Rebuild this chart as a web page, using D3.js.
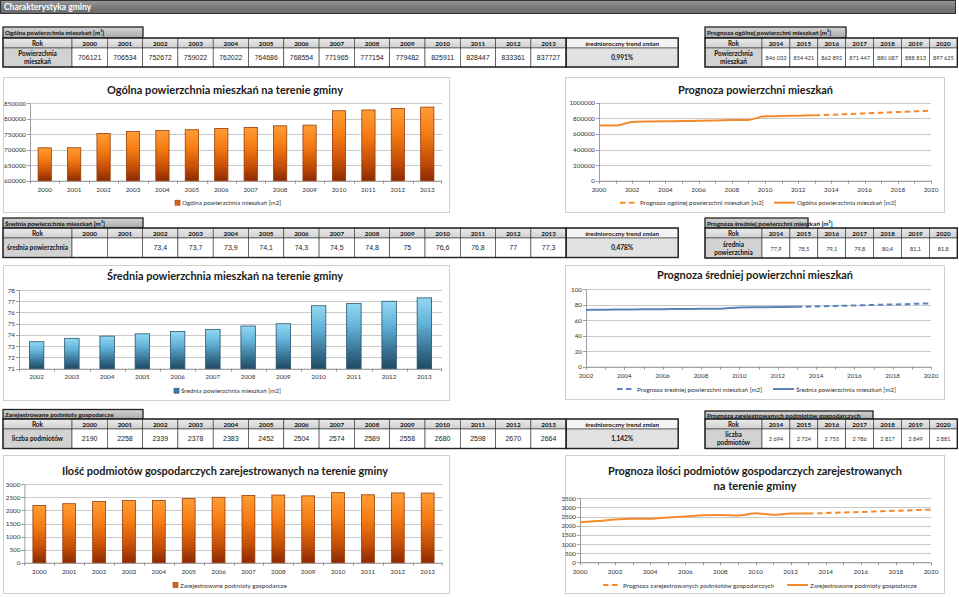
<!DOCTYPE html>
<html><head><meta charset="utf-8">
<script src="https://cdn.jsdelivr.net/npm/d3@7"></script>
<style>body{margin:0;background:#fff}svg{display:block}</style>
</head><body><svg id="c" width="959" height="597"></svg>
<script>
// ---------- DATA ----------
const years = [2000,2001,2002,2003,2004,2005,2006,2007,2008,2009,2010,2011,2012,2013];
const forecastYears = [2014,2015,2016,2017,2018,2019,2020];
const areaValues = [706121,706534,752672,759022,762022,764686,768554,771965,777154,779482,825911,828447,833361,837727];
const areaForecast = [846033,854421,862892,871447,880087,888813,897625];
const avgYears = [2002,2003,2004,2005,2006,2007,2008,2009,2010,2011,2012,2013];
const avgValues = [73.4,73.7,73.9,74.1,74.3,74.5,74.8,75,76.6,76.8,77,77.3];
const avgForecast = [77.9,78.5,79.1,79.8,80.4,81.1,81.8];
const firmValues = [2190,2258,2339,2378,2383,2452,2504,2574,2589,2558,2680,2598,2670,2664];
const firmForecast = [2694,2724,2755,2786,2817,2849,2881];
const trendArea = "0,991%", trendAvg = "0,478%", trendFirm = "1,142%";
const areaTicks = [600000,650000,700000,750000,800000,850000];
const avgTicks = [71,72,73,74,75,76,77,78];
const firmTicks = [0,500,1000,1500,2000,2500,3000];
const areaLineTicks = [0,200000,400000,600000,800000,1000000];
const avgLineTicks = [0,20,40,60,80,100];
const firmLineTicks = [0,500,1000,1500,2000,2500,3000,3500];

const svg = d3.select("#c");
const CAL = "Lato, 'Open Sans', sans-serif";
const ARIAL = "'Liberation Sans', Arial, sans-serif";

// ---------- DEFS ----------
const defs = svg.append("defs");
function grad(id, stops, horiz){
  const g = defs.append("linearGradient").attr("id",id).attr("x1",0).attr("y1",0)
    .attr("x2",horiz?1:0).attr("y2",horiz?0:1);
  stops.forEach(s=>g.append("stop").attr("offset",s[0]).attr("stop-color",s[1]));
}
grad("orangeGrad",[[0,"#ff9d35"],[0.35,"#f67d14"],[0.75,"#c24c06"],[1,"#8a2a02"]]);
grad("blueGrad",[[0,"#93d8f4"],[0.35,"#63b4d9"],[0.75,"#356f90"],[1,"#214a62"]]);
grad("headBar",[[0,"#9a9a9a"],[0.5,"#7a7a7a"],[1,"#6a6a6a"]]);
grad("tabGrad",[[0,"#d6d6d6"],[1,"#a9a9a9"]]);
grad("rowGrad",[[0,"#ececec"],[1,"#cfcfcf"]]);

// ---------- HEADER ----------
svg.append("rect").attr("x",0.5).attr("y",0.5).attr("width",955).attr("height",13)
  .attr("fill","url(#headBar)").attr("stroke","#333").attr("stroke-width",1);
svg.append("text").attr("x",4).attr("y",10).attr("font-family",CAL).attr("font-weight","bold")
  .attr("font-size",8.5).attr("fill","#fff").text("Charakterystyka gminy");

// ---------- TABLES ----------
function drawTable(o){
  const g = svg.append("g");
  const n = o.cols.length;
  const yH = o.y, yV = o.y + o.headerH;
  g.append("rect").attr("x",o.x).attr("y",o.y-o.titleH).attr("width",o.titleW).attr("height",o.titleH)
    .attr("fill","url(#tabGrad)").attr("stroke","#222").attr("stroke-width",1.3);
  g.append("text").attr("x",o.x+2).attr("y",o.y-o.titleH/2).attr("dominant-baseline","central")
    .attr("font-family",CAL).attr("font-weight","bold").attr("font-size",6.3).attr("fill","#111").text(o.title);
  g.append("rect").attr("x",o.x).attr("y",yH).attr("width",o.labelW).attr("height",o.headerH)
    .attr("fill","url(#rowGrad)").attr("stroke","#333").attr("stroke-width",0.6);
  g.append("text").attr("x",o.x+o.labelW/2).attr("y",yH+o.headerH/2).attr("dominant-baseline","central")
    .attr("text-anchor","middle").attr("font-family",CAL).attr("font-weight","bold").attr("font-size",6.5).attr("fill","#111").text("Rok");
  g.append("rect").attr("x",o.x).attr("y",yV).attr("width",o.labelW).attr("height",o.rowH)
    .attr("fill","#d2d2d2").attr("stroke","#333").attr("stroke-width",0.6);
  const lt = g.append("text").attr("text-anchor","middle").attr("font-family",CAL).attr("font-weight","bold")
    .attr("font-size",6.5).attr("fill","#111");
  const ll = o.labelLines;
  ll.forEach((s,i)=>{
    lt.append("tspan").attr("x",o.x+o.labelW/2)
      .attr("y",yV+o.rowH/2 + (i-(ll.length-1)/2)*8).attr("dominant-baseline","central").text(s);
  });
  o.cols.forEach((c,i)=>{
    const cx = o.x + o.labelW + i*o.colW;
    g.append("rect").attr("x",cx).attr("y",yH).attr("width",o.colW).attr("height",o.headerH)
      .attr("fill","url(#rowGrad)").attr("stroke","#333").attr("stroke-width",0.6);
    g.append("text").attr("x",cx+o.colW/2).attr("y",yH+o.headerH/2).attr("dominant-baseline","central")
      .attr("text-anchor","middle").attr("font-family",CAL).attr("font-weight","bold").attr("font-size",6.3).attr("fill","#111").text(c);
    g.append("rect").attr("x",cx).attr("y",yV).attr("width",o.colW).attr("height",o.rowH)
      .attr("fill","#fff").attr("stroke","#333").attr("stroke-width",0.6);
    g.append("text").attr("x",cx+o.colW/2).attr("y",yV+o.rowH/2).attr("dominant-baseline","central")
      .attr("text-anchor","middle").attr("font-family",o.valFont).attr("font-size",o.valSize).attr("fill",o.valColor||"#222").text(o.vals[i]);
  });
  const tableW = o.labelW + n*o.colW;
  g.append("rect").attr("x",o.x).attr("y",yH).attr("width",tableW).attr("height",o.headerH+o.rowH)
    .attr("fill","none").attr("stroke","#222").attr("stroke-width",1.4);
  if(o.trend){
    const tx = o.x + tableW;
    g.append("rect").attr("x",tx).attr("y",yH).attr("width",o.trendW).attr("height",o.headerH)
      .attr("fill","#f4f4f4").attr("stroke","#333").attr("stroke-width",0.6);
    g.append("text").attr("x",tx+o.trendW/2).attr("y",yH+o.headerH/2).attr("dominant-baseline","central")
      .attr("text-anchor","middle").attr("font-family",CAL).attr("font-weight","bold").attr("font-size",6.3).attr("fill","#111").text("średnioroczny trend zmian");
    g.append("rect").attr("x",tx).attr("y",yV).attr("width",o.trendW).attr("height",o.rowH)
      .attr("fill","#e2e2e2").attr("stroke","#333").attr("stroke-width",0.6);
    g.append("text").attr("x",tx+o.trendW/2).attr("y",yV+o.rowH/2).attr("dominant-baseline","central")
      .attr("text-anchor","middle").attr("font-family",CAL).attr("font-weight","bold").attr("font-size",6.5).attr("fill","#111").text(o.trend);
    g.append("rect").attr("x",tx).attr("y",yH).attr("width",o.trendW).attr("height",o.headerH+o.rowH)
      .attr("fill","none").attr("stroke","#222").attr("stroke-width",1.4);
  }
}
const spaceFmt = v => d3.format(",")(v).replace(/,/g," ");
const commaFmt = v => (v===null||v===undefined) ? "" : String(v).replace(".",",");

const mainCol = {x:3, labelW:69, colW:35.3, trendW:112, valFont:ARIAL, valSize:7, titleW:140};
const fcCol = {x:705, labelW:57, colW:27.9, valFont:CAL, valSize:5.6, valColor:"#333"};

drawTable(Object.assign({}, mainCol, {y:38, titleH:11, headerH:10, rowH:19,
  title:"Ogólna powierzchnia mieszkań [m²]", labelLines:["Powierzchnia","mieszkań"],
  cols:years, vals:areaValues.map(String), trend:trendArea}));
drawTable(Object.assign({}, fcCol, {y:38, titleH:11, titleW:141, headerH:10, rowH:19,
  title:"Prognoza ogólnej powierzchni mieszkań [m²]", labelLines:["Powierzchnia","mieszkań"],
  cols:forecastYears, vals:areaForecast.map(spaceFmt)}));

const avgTableVals = years.map(y=>{ const i = avgYears.indexOf(y); return i<0 ? "" : commaFmt(avgValues[i]); });
drawTable(Object.assign({}, mainCol, {y:228, titleH:10, headerH:10, rowH:19.5,
  title:"Średnia powierzchnia mieszkań  [m²]", labelLines:["średnia powierzchnia"],
  cols:years, vals:avgTableVals, trend:trendAvg}));
drawTable(Object.assign({}, fcCol, {y:228, titleH:10, titleW:103, headerH:10, rowH:20,
  title:"Prognoza średniej powierzchni mieszkań  [m²]", labelLines:["średnia","powierzchnia"],
  cols:forecastYears, vals:avgForecast.map(commaFmt)}));

drawTable(Object.assign({}, mainCol, {y:419, titleH:9.5, headerH:10, rowH:19.5,
  title:"Zarejestrowane podmioty gospodarcze", labelLines:["liczba podmiotów"],
  cols:years, vals:firmValues.map(String), trend:trendFirm}));
drawTable(Object.assign({}, fcCol, {y:419, titleH:8, titleW:168, headerH:10, rowH:19.5,
  title:"Prognoza zarejestrowanych podmiotów gospodarczych", labelLines:["liczba","podmiotów"],
  cols:forecastYears, vals:firmForecast.map(spaceFmt)}));

// ---------- CHART HELPERS ----------
function box(b){
  svg.append("rect").attr("x",b.x+0.5).attr("y",b.y+0.5).attr("width",b.w).attr("height",b.h)
    .attr("fill","#fff").attr("stroke","#cfcfcf").attr("stroke-width",1);
}
function title(lines, widths, cx, y){
  lines.forEach((s,i)=>svg.append("text").attr("x",cx).attr("y",y+i*15).attr("text-anchor","middle")
    .attr("dominant-baseline","central").attr("font-family",CAL).attr("font-weight","bold").attr("font-size",12)
    .attr("textLength",widths[i]).attr("lengthAdjust","spacingAndGlyphs").attr("fill","#1a1a1a").text(s));
}
function yGrid(p, y, ticks){
  const g = svg.append("g");
  ticks.forEach(t=>{
    const yy = Math.round(y(t))+0.5;
    g.append("line").attr("x1",p.l).attr("x2",p.r).attr("y1",yy).attr("y2",yy)
      .attr("stroke","#bdbdbd").attr("stroke-width",0.8);
    g.append("line").attr("x1",p.l-3).attr("x2",p.l).attr("y1",yy).attr("y2",yy)
      .attr("stroke","#888").attr("stroke-width",0.8);
    g.append("text").attr("x",p.l-4).attr("y",y(t)).attr("text-anchor","end").attr("dominant-baseline","central")
      .attr("font-family",CAL).attr("font-size",6.3).attr("fill","#333").text(t);
  });
  g.append("line").attr("x1",p.l+0.5).attr("x2",p.l+0.5).attr("y1",p.t).attr("y2",p.b).attr("stroke","#888").attr("stroke-width",0.8);
  g.append("line").attr("x1",p.l).attr("x2",p.r).attr("y1",p.b+0.5).attr("y2",p.b+0.5).attr("stroke","#888").attr("stroke-width",0.8);
}

function barChart(o){
  box(o.box);
  title([o.title], [o.titleW], o.titleX, o.titleY);
  const p = o.plot;
  const x = d3.scaleBand().domain(o.cats).range([p.l,p.r]).paddingInner(o.pad).paddingOuter(o.pad/2);
  const y = d3.scaleLinear().domain(o.domain).range([p.b,p.t]);
  yGrid(p, y, o.ticks);
  o.cats.forEach((c,i)=>{
    const bx = Math.round(p.l + i*(p.r-p.l)/o.cats.length)+0.5;
    svg.append("line").attr("x1",bx).attr("x2",bx).attr("y1",p.b).attr("y2",p.b+3).attr("stroke","#888").attr("stroke-width",0.8);
  });
  svg.append("line").attr("x1",p.r-0.5).attr("x2",p.r-0.5).attr("y1",p.b).attr("y2",p.b+3).attr("stroke","#888").attr("stroke-width",0.8);
  svg.append("g").selectAll("rect").data(o.vals).join("rect")
    .attr("x",(d,i)=>x(o.cats[i])).attr("width",x.bandwidth())
    .attr("y",d=>y(d)).attr("height",d=>y(o.domain[0])-y(d))
    .attr("fill",`url(#${o.grad})`).attr("stroke",o.stroke).attr("stroke-width",0.8);
  svg.append("g").selectAll("text").data(o.cats).join("text")
    .attr("x",d=>x(d)+x.bandwidth()/2).attr("y",o.xLabelY).attr("text-anchor","middle").attr("dominant-baseline","central")
    .attr("font-family",CAL).attr("font-size",6.3).attr("fill","#333").text(d=>d);
  svg.append("rect").attr("x",o.legX).attr("y",o.legY-2.5).attr("width",5).attr("height",5)
    .attr("fill",o.legColor).attr("stroke",o.stroke).attr("stroke-width",0.6);
  svg.append("text").attr("x",o.legX+7).attr("y",o.legY).attr("dominant-baseline","central")
    .attr("font-family",CAL).attr("font-size",6.3).attr("fill","#333").text(o.legend);
}

function lineChart(o){
  box(o.box);
  title(o.title, o.titleW, o.titleX, o.titleY);
  const p = o.plot;
  const x = d3.scaleLinear().domain(o.xDomain).range([p.l,p.r]);
  const y = d3.scaleLinear().domain(o.yDomain).range([p.b,p.t]);
  yGrid(p, y, o.ticks);
  for(let yr=o.xDomain[0]; yr<=o.xDomain[1]; yr++){
    svg.append("line").attr("x1",Math.round(x(yr))+0.5).attr("x2",Math.round(x(yr))+0.5).attr("y1",p.b).attr("y2",p.b+3)
      .attr("stroke","#888").attr("stroke-width",0.8);
  }
  const lbl = d3.range(o.xDomain[0], o.xDomain[1]+1, 2);
  svg.append("g").selectAll("text").data(lbl).join("text")
    .attr("x",d=>x(d)).attr("y",o.xLabelY).attr("text-anchor","middle").attr("dominant-baseline","central")
    .attr("font-family",CAL).attr("font-size",6.3).attr("fill","#333").text(d=>d);
  const line = d3.line().x(d=>x(d[0])).y(d=>y(d[1])).curve(d3.curveMonotoneX);
  const actual = o.hx.map((yr,i)=>[yr,o.hv[i]]);
  const fc = [[o.hx[o.hx.length-1], o.hv[o.hv.length-1]]].concat(o.fx.map((yr,i)=>[yr,o.fv[i]]));
  svg.append("path").attr("d",line(actual)).attr("fill","none").attr("stroke",o.color).attr("stroke-width",2);
  svg.append("path").attr("d",line(fc)).attr("fill","none").attr("stroke",o.color).attr("stroke-width",2).attr("stroke-dasharray","5.5,3.5");
  const L = o.leg;
  svg.append("line").attr("x1",L.d1).attr("x2",L.d1+17).attr("y1",L.y).attr("y2",L.y).attr("stroke",o.color)
    .attr("stroke-width",2).attr("stroke-dasharray","5.5,3.5");
  svg.append("text").attr("x",L.d1+20).attr("y",L.y).attr("dominant-baseline","central")
    .attr("font-family",CAL).attr("font-size",6.3).attr("fill","#333").text(o.fcLabel);
  svg.append("line").attr("x1",L.s1).attr("x2",L.s1+21).attr("y1",L.y).attr("y2",L.y).attr("stroke",o.color).attr("stroke-width",2);
  svg.append("text").attr("x",L.s1+23).attr("y",L.y).attr("dominant-baseline","central")
    .attr("font-family",CAL).attr("font-size",6.3).attr("fill","#333").text(o.acLabel);
}

// ---------- CHARTS ----------
barChart({box:{x:3,y:77,w:446,h:135}, plot:{l:30,r:442,t:103.3,b:180.7},
  title:"Ogólna powierzchnia mieszkań na terenie gminy", titleW:236, titleX:225, titleY:89,
  cats:years, vals:areaValues, domain:[600000,850000], ticks:areaTicks, pad:0.55,
  grad:"orangeGrad", stroke:"#9a3a08", xLabelY:189, legX:175, legY:202.7, legColor:"#d9621a",
  legend:"Ogólna powierzchnia mieszkań [m2]"});

lineChart({box:{x:565,y:77,w:379,h:135}, plot:{l:599,r:931,t:102.7,b:180.7},
  title:["Prognoza powierzchni mieszkań"], titleW:[155], titleX:755.5, titleY:89,
  xDomain:[2000,2020], yDomain:[0,1000000], ticks:areaLineTicks,
  hx:years, hv:areaValues, fx:forecastYears, fv:areaForecast, color:"#f58a2c", xLabelY:189,
  leg:{y:202.7, d1:620, s1:774}, fcLabel:"Prognoza ogólnej powierzchni mieszkań [m2]", acLabel:"Ogólna powierzchnia mieszkań [m2]"});

barChart({box:{x:3,y:265,w:446,h:135}, plot:{l:19,r:442,t:290,b:368.7},
  title:"Średnia powierzchnia mieszkań na terenie gminy", titleW:236, titleX:225, titleY:275.7,
  cats:avgYears, vals:avgValues, domain:[71,78], ticks:avgTicks, pad:0.59,
  grad:"blueGrad", stroke:"#2a536c", xLabelY:376.7, legX:174, legY:390.7, legColor:"#3e7ea6",
  legend:"Średnia powierzchnia mieszkań  [m2]"});

lineChart({box:{x:565,y:265,w:379,h:134}, plot:{l:586,r:931,t:289.3,b:366.7},
  title:["Prognoza średniej powierzchni mieszkań"], titleW:[196], titleX:755, titleY:274.3,
  xDomain:[2002,2020], yDomain:[0,100], ticks:avgLineTicks,
  hx:avgYears, hv:avgValues, fx:forecastYears, fv:avgForecast, color:"#5b83bd", xLabelY:375,
  leg:{y:389, d1:617, s1:773}, fcLabel:"Prognoza średniej powierzchni mieszkań  [m2]", acLabel:"Średnia powierzchnia mieszkań  [m2]"});

barChart({box:{x:3,y:455,w:446,h:138}, plot:{l:24.4,r:442.6,t:484.3,b:562.7},
  title:"Ilość podmiotów gospodarczych zarejestrowanych na terenie gminy", titleW:326, titleX:225, titleY:470,
  cats:years, vals:firmValues, domain:[0,3000], ticks:firmTicks, pad:0.57,
  grad:"orangeGrad", stroke:"#9a3a08", xLabelY:571.7, legX:173, legY:585, legColor:"#d9621a",
  legend:"Zarejestrowane podmioty gospodarcze"});

lineChart({box:{x:565,y:455,w:379,h:138}, plot:{l:580,r:931,t:498.3,b:562.3},
  title:["Prognoza ilości podmiotów gospodarczych zarejestrowanych","na terenie gminy"], titleW:[294,83], titleX:755, titleY:470,
  xDomain:[2000,2020], yDomain:[0,3500], ticks:firmLineTicks,
  hx:years, hv:firmValues, fx:forecastYears, fv:firmForecast, color:"#f58a2c", xLabelY:571.7,
  leg:{y:585, d1:603, s1:787}, fcLabel:"Prognoza zarejestrowanych podmiotów gospodarczych", acLabel:"Zarejestrowane podmioty gospodarcze"});
</script></body></html>
